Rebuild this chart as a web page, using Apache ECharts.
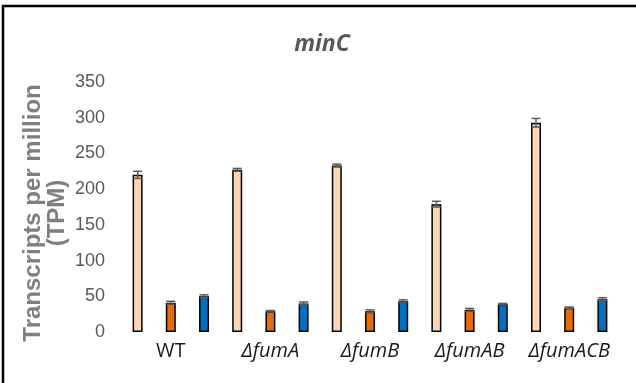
<!DOCTYPE html>
<html>
<head>
<meta charset="utf-8">
<script src="https://cdn.jsdelivr.net/npm/echarts@6/dist/echarts.min.js"></script>
<style>
html,body{margin:0;padding:0;background:#fff;}
#chart{width:636px;height:383px;}
</style>
</head>
<body>
<div id="chart"></div>
<script>
const categories = ['WT', 'ΔfumA', 'ΔfumB', 'ΔfumAB', 'ΔfumACB'];
const peachValues = [220, 227, 233, 179, 293];
const peachErrors = [5, 2, 2, 4, 6];
const orangeValues = [41, 29, 29, 31, 34];
const orangeErrors = [2, 1, 2, 2, 1];
const blueValues = [50, 40, 43, 39, 46];
const blueErrors = [2, 2, 2, 1, 2];
const yTicks = [0, 50, 100, 150, 200, 250, 300, 350];
const titleText = 'minC';
const yNameLines = ['Transcripts per million', '(TPM)'];

const BAR_W = 10;
const GAP = 2.32;
const STEP = BAR_W * (1 + GAP);

function errSeries(values, errors, k) {
  return {
    type: 'custom',
    z: 5,
    silent: true,
    data: values.map((v, i) => [i, v, errors[i]]),
    renderItem: function (params, api) {
      const i = api.value(0), v = api.value(1), e = api.value(2);
      const top = api.coord([i, v + e]);
      const bot = api.coord([i, v - e]);
      const x = top[0] + k * STEP;
      const hw = 4.5;
      const st = { stroke: '#595959', lineWidth: 1.5 };
      return {
        type: 'group',
        children: [
          { type: 'line', shape: { x1: x, y1: top[1], x2: x, y2: bot[1] }, style: st },
          { type: 'line', shape: { x1: x - hw, y1: top[1], x2: x + hw, y2: top[1] }, style: st },
          { type: 'line', shape: { x1: x - hw, y1: bot[1], x2: x + hw, y2: bot[1] }, style: st }
        ]
      };
    }
  };
}

function barSeries(values, color) {
  return {
    type: 'bar',
    data: values,
    barWidth: BAR_W,
    barGap: (GAP * 100) + '%',
    itemStyle: { color: color, borderColor: '#000', borderWidth: 1.5 }
  };
}

const chart = echarts.init(document.getElementById('chart'), null, { renderer: 'canvas' });
chart.setOption({
  animation: false,
  backgroundColor: '#fff',
  grid: { left: 121, right: 17, top: 82, bottom: 51, containLabel: false, outerBoundsMode: 'none' },
  graphic: [
    { type: 'polyline', shape: { points: [[3, 390], [3, 6], [640, 6]] }, style: { stroke: '#000', lineWidth: 2.5, fill: null } },
    { type: 'text', x: 322, y: 44, style: { text: titleText, font: 'italic bold 23px "Open Sans"', fill: '#595959', textAlign: 'center', textVerticalAlign: 'middle' } },
    { type: 'text', x: 33, y: 213, rotation: Math.PI / 2, style: { text: yNameLines[0], font: 'bold 24px "Liberation Sans"', fill: '#7f7f7f', textAlign: 'center', textVerticalAlign: 'middle' } },
    { type: 'text', x: 57, y: 213, rotation: Math.PI / 2, style: { text: yNameLines[1], font: 'bold 24px "Liberation Sans"', fill: '#7f7f7f', textAlign: 'center', textVerticalAlign: 'middle' } }
  ],
  xAxis: {
    type: 'category',
    data: categories,
    axisLine: { show: false },
    axisTick: { show: false },
    axisLabel: {
      margin: 9,
      formatter: function (v) { return v === 'WT' ? '{n|' + v + '}' : '{i|' + v + '}'; },
      rich: {
        n: { fontFamily: 'Open Sans', fontSize: 20, color: '#1a1a1a' },
        i: { fontFamily: 'Open Sans', fontSize: 20, fontStyle: 'italic', color: '#1a1a1a' }
      }
    }
  },
  yAxis: {
    type: 'value',
    min: yTicks[0],
    max: yTicks[yTicks.length - 1],
    interval: yTicks[1] - yTicks[0],
    splitLine: { show: false },
    axisLine: { show: false },
    axisTick: { show: false },
    axisLabel: { margin: 16, fontFamily: 'Liberation Sans', fontSize: 18, color: '#595959' }
  },
  series: [
    barSeries(peachValues, '#FCD5B5'),
    barSeries(orangeValues, '#E46C0A'),
    barSeries(blueValues, '#0070C0'),
    errSeries(peachValues, peachErrors, -1),
    errSeries(orangeValues, orangeErrors, 0),
    errSeries(blueValues, blueErrors, 1)
  ]
});
</script>
</body>
</html>
